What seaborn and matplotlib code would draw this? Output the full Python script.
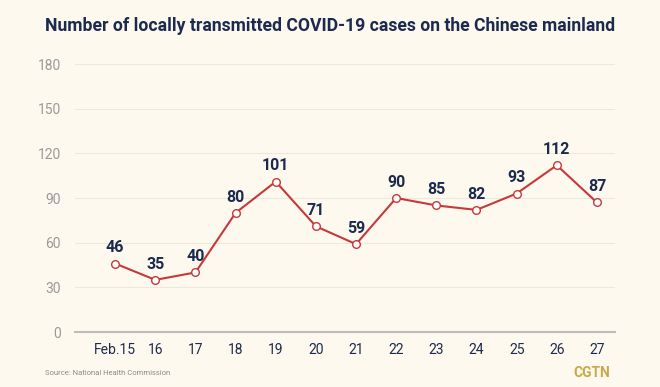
import matplotlib
matplotlib.use("Agg")
import matplotlib.pyplot as plt
import seaborn as sns
import pandas as pd

dates = ["Feb.15", "16", "17", "18", "19", "20", "21", "22", "23", "24", "25", "26", "27"]
cases = [46, 35, 40, 80, 101, 71, 59, 90, 85, 82, 93, 112, 87]
y_ticks = [0, 30, 60, 90, 120, 150, 180]

BG = "#FDF9EE"
NAVY = "#1B2A4E"
RED = "#C8383A"
GRAY = "#9A9A9A"

sns.set_theme(style="white")
plt.rcParams["font.family"] = ["Roboto", "DejaVu Sans"]

df = pd.DataFrame({"x": range(len(dates)), "cases": cases})

fig = plt.figure(figsize=(6.6, 3.87), dpi=100, facecolor=BG)
ax = fig.add_axes([75/660, 1-332/387, (615-75)/660, (332-64)/387])
ax.set_facecolor(BG)

sns.lineplot(data=df, x="x", y="cases", ax=ax, color=RED, linewidth=1.5,
             marker="o", markersize=5.5, markerfacecolor="white",
             markeredgecolor=RED, markeredgewidth=1.0, zorder=3)

for i, v in enumerate(cases):
    ax.annotate(str(v), (i, v), xytext=(0, 6), textcoords="offset points",
                ha="center", va="bottom", fontsize=11.5, fontweight="bold",
                color=NAVY)

ax.set_xlim(-1, len(dates) - 1 + 0.45)
ax.set_ylim(0, 180)
ax.set_yticks(y_ticks)
ax.set_xticks(range(len(dates)))
ax.set_xticklabels(dates)
ax.yaxis.grid(True, color="#ECE8DC", linewidth=0.8)
ax.set_axisbelow(True)
for s in ["top", "right", "left"]:
    ax.spines[s].set_visible(False)
ax.spines["bottom"].set_color("#BDBDBD")
ax.spines["bottom"].set_linewidth(1.5)
ax.tick_params(axis="x", colors="#BDBDBD", length=5, width=1, direction="out", pad=3)
ax.tick_params(axis="y", length=0, pad=10)
for t in ax.get_xticklabels():
    t.set_color(NAVY)
    t.set_fontsize(10)
for t in ax.get_yticklabels():
    t.set_color(GRAY)
    t.set_fontsize(10)
    t.set_ha("right")
ax.set_xlabel("")
ax.set_ylabel("")

fig.text(0.5, 1-26/387, "Number of locally transmitted COVID-19 cases on the Chinese mainland",
         ha="center", va="center", fontsize=12.7, fontweight="bold", color=NAVY)
fig.text(45/660, 1-373/387, "Source: National Health Commission", ha="left", va="center",
         fontsize=5.5, color="#8A8A8A")
fig.text(610/660, 1-373/387, "CGTN", ha="right", va="center", fontsize=10,
         fontweight="bold", color="#C9A84C")

fig.savefig("out.png", dpi=100, facecolor=BG)
